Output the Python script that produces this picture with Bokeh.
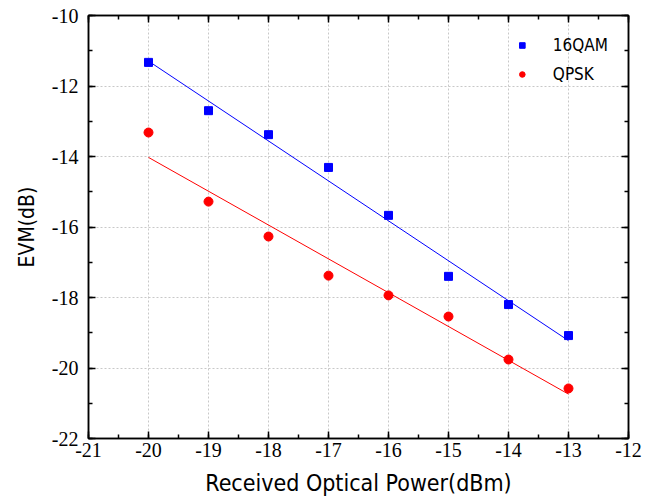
import numpy as np
from bokeh.plotting import figure
from bokeh.models import (LinearAxis, SingleIntervalTicker, Range1d, Legend, LegendItem,
                          CustomJSTickFormatter)
from bokeh.embed import file_html
from bokeh.resources import INLINE

power = [-20, -19, -18, -17, -16, -15, -14, -13]
evm_16qam = [-11.33, -12.70, -13.38, -14.31, -15.67, -17.40, -18.20, -19.08]
evm_qpsk = [-13.32, -15.28, -16.27, -17.38, -17.94, -18.54, -19.76, -20.58]
x_ticks = [-21, -20, -19, -18, -17, -16, -15, -14, -13, -12]
y_ticks = [-22, -20, -18, -16, -14, -12, -10]

p = figure(width=646, height=504, output_backend="svg", toolbar_location=None,
           x_range=Range1d(-21, -12), y_range=Range1d(-22, -10),
           min_border_left=88, min_border_right=18, min_border_top=15, min_border_bottom=66,
           background_fill_color="white", border_fill_color="white")
p.outline_line_color = "black"
p.outline_line_width = 1.5

xt = SingleIntervalTicker(interval=1, num_minor_ticks=2)
yt = SingleIntervalTicker(interval=2, num_minor_ticks=2)
p.xaxis.ticker = xt
p.yaxis.ticker = yt
p.xgrid.ticker = xt
p.ygrid.ticker = yt
for g in (p.xgrid, p.ygrid):
    g.grid_line_color = "#c8c8c8"
    g.grid_line_dash = "2 2"
    g.grid_line_width = 1

def style_axis(ax, labels=True, font="Liberation Serif"):
    ax.axis_line_color = "black"
    ax.axis_line_width = 1.5
    ax.major_tick_in = 7
    ax.major_tick_out = 0
    ax.minor_tick_in = 4
    ax.minor_tick_out = 0
    ax.major_tick_line_color = "black"
    ax.minor_tick_line_color = "black"
    ax.major_tick_line_width = 1.5
    ax.minor_tick_line_width = 1.5
    if labels:
        ax.formatter = CustomJSTickFormatter(code="return tick.toFixed(0)")
        ax.major_label_text_font = font
        ax.major_label_text_font_size = "20px"
        ax.major_label_text_color = "black"
    else:
        ax.formatter = CustomJSTickFormatter(code="return ''")
        ax.major_label_standoff = 0

style_axis(p.xaxis[0], font="Liberation Serif")
style_axis(p.yaxis[0], font="Times New Roman")
p.xaxis.major_label_standoff = 4
p.yaxis.major_label_standoff = 10
p.xaxis.axis_label = "Received Optical Power(dBm)"
p.yaxis.axis_label = "EVM(dB)"
for ax in (p.xaxis[0], p.yaxis[0]):
    ax.axis_label_text_font = "DejaVu Sans Condensed"
    ax.axis_label_text_font_style = "normal"
    ax.axis_label_text_color = "black"
p.xaxis.axis_label_text_font_size = "23px"
p.yaxis.axis_label_text_font_size = "21px"
p.xaxis.axis_label_standoff = 10
p.yaxis.axis_label_standoff = 10

top = LinearAxis(ticker=xt)
right = LinearAxis(ticker=yt)
style_axis(top, labels=False)
style_axis(right, labels=False)
p.add_layout(top, "above")
p.add_layout(right, "right")

xs = np.array(power, dtype=float)
c1 = np.polyfit(xs, np.array(evm_16qam), 1)
c2 = np.polyfit(xs, np.array(evm_qpsk), 1)
xf = np.array([power[0], power[-1]], dtype=float)
p.line(xf, np.polyval(c1, xf), line_color="#0000ff", line_width=1)
p.line(xf, np.polyval(c2, xf), line_color="#ff0000", line_width=1)

r1 = p.scatter(power, evm_16qam, marker="square", size=8, color="#0000ff")
r2 = p.scatter(power, evm_qpsk, marker="circle", size=9, color="#ff0000")

legend = Legend(items=[LegendItem(label="16QAM", renderers=[r1]),
                       LegendItem(label="QPSK", renderers=[r2])],
                location="top_right")
legend.border_line_color = None
legend.background_fill_alpha = 0
legend.label_text_font = "DejaVu Sans Condensed"
legend.label_text_font_size = "17px"
legend.label_text_color = "black"
legend.glyph_width = 14
legend.glyph_height = 20
legend.label_height = 20
legend.label_standoff = 24
legend.spacing = 9
legend.margin = 20
legend.padding = 6
p.add_layout(legend)

open("out.html", "w").write(file_html(p, INLINE))
